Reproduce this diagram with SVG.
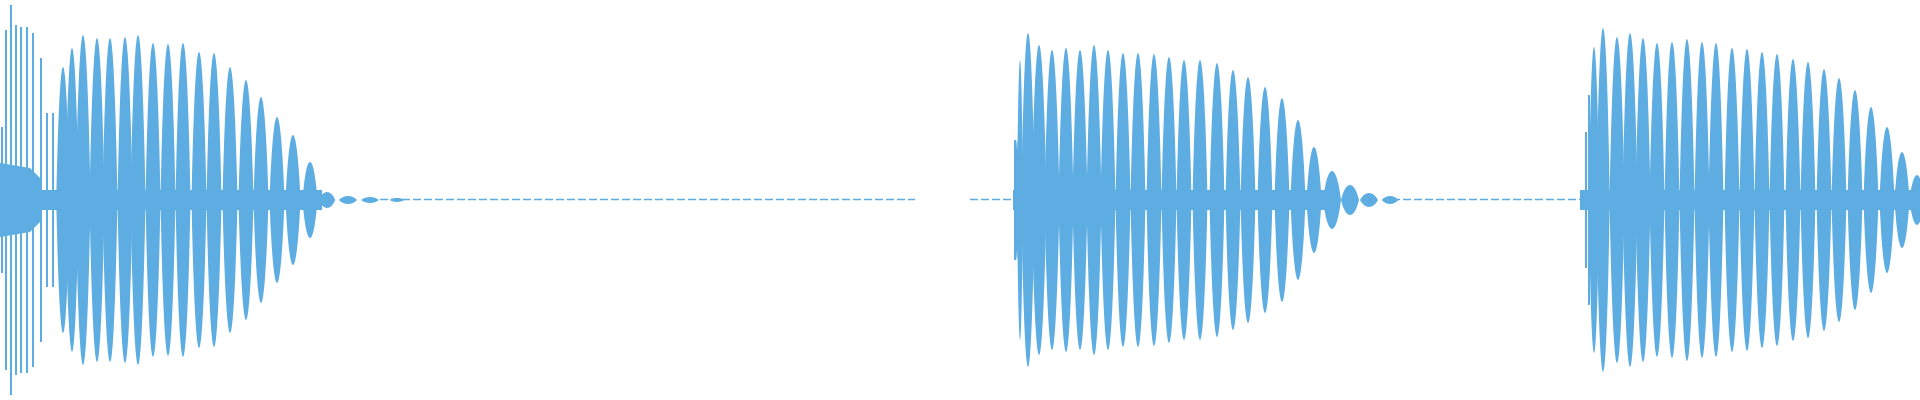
<svg xmlns="http://www.w3.org/2000/svg" xmlns:xlink="http://www.w3.org/1999/xlink" width="1920" height="400" viewBox="0 0 1920 400">
<style>.w{fill:#5dade2}.t{stroke:#5dade2;stroke-width:2}.d{stroke:#5dade2;stroke-width:1.5;stroke-dasharray:8 3;fill:none}</style>
<defs><path id="L" d="M-7.5 0 C-3.5 -1.333 3.5 -1.333 7.5 0 C3.5 1.333 -3.5 1.333 -7.5 0Z"/></defs>
<rect width="1920" height="400" fill="#fff"/>
<g class="w">
<rect x="0" y="190" width="322" height="20"/>
<path d="M0 163 L30 168 L40 178 L40 222 L30 232 L0 237Z"/>
<rect x="1013" y="190" width="318" height="20"/>
<rect x="1580" y="190" width="340" height="20"/>
</g>
<g class="t">
<line x1="2" y1="127" x2="2" y2="273"/><line x1="6" y1="30" x2="6" y2="370"/><line x1="11" y1="5" x2="11" y2="395"/><line x1="16" y1="25" x2="16" y2="375"/><line x1="21" y1="27" x2="21" y2="373"/><line x1="27" y1="27" x2="27" y2="373"/><line x1="33" y1="33" x2="33" y2="367"/><line x1="41" y1="58" x2="41" y2="342"/><line x1="47" y1="113" x2="47" y2="287"/><line x1="53" y1="113" x2="53" y2="287"/>
<line x1="1015" y1="140" x2="1015" y2="260"/><line x1="1586" y1="132" x2="1586" y2="268"/><line x1="1589" y1="95" x2="1589" y2="305"/>
</g>
<g class="d"><line x1="380" y1="199.5" x2="915" y2="199.5"/><line x1="970" y1="199.5" x2="1012" y2="199.5"/><line x1="1392" y1="199.5" x2="1580" y2="199.5"/></g>
<g class="w">
<use xlink:href="#L" transform="translate(63,200) scale(0.9,133)"/>
<use xlink:href="#L" transform="translate(72,200) scale(0.9,152)"/>
<use xlink:href="#L" transform="translate(83,200) scale(1,165)"/>
<use xlink:href="#L" transform="translate(97,200) scale(1,162)"/>
<use xlink:href="#L" transform="translate(110,200) scale(1,162)"/>
<use xlink:href="#L" transform="translate(125,200) scale(1,163)"/>
<use xlink:href="#L" transform="translate(138,200) scale(1,165)"/>
<use xlink:href="#L" transform="translate(153,200) scale(1,157)"/>
<use xlink:href="#L" transform="translate(168,200) scale(1,156)"/>
<use xlink:href="#L" transform="translate(183,200) scale(1,157)"/>
<use xlink:href="#L" transform="translate(199,200) scale(1,148)"/>
<use xlink:href="#L" transform="translate(214,200) scale(1,147)"/>
<use xlink:href="#L" transform="translate(230,200) scale(1,133)"/>
<use xlink:href="#L" transform="translate(246,200) scale(1,120)"/>
<use xlink:href="#L" transform="translate(261,200) scale(1,103)"/>
<use xlink:href="#L" transform="translate(277,200) scale(1,83)"/>
<use xlink:href="#L" transform="translate(293,200) scale(1,65)"/>
<use xlink:href="#L" transform="translate(310,200) scale(1,38)"/>
<use xlink:href="#L" transform="translate(327,200) scale(1.1,8)"/>
<use xlink:href="#L" transform="translate(348,200) scale(1.2,4)"/>
<use xlink:href="#L" transform="translate(370,200) scale(1.2,3)"/>
<use xlink:href="#L" transform="translate(397,200) scale(1,2)"/>
<use xlink:href="#L" transform="translate(1017,200) scale(0.3,60)"/>
<use xlink:href="#L" transform="translate(1020,200) scale(0.4,140)"/>
<use xlink:href="#L" transform="translate(1028,200) scale(0.9,167)"/>
<use xlink:href="#L" transform="translate(1039,200) scale(1,155)"/>
<use xlink:href="#L" transform="translate(1052,200) scale(1,150)"/>
<use xlink:href="#L" transform="translate(1066,200) scale(1,152)"/>
<use xlink:href="#L" transform="translate(1080,200) scale(1,150)"/>
<use xlink:href="#L" transform="translate(1094,200) scale(1,155)"/>
<use xlink:href="#L" transform="translate(1108,200) scale(1,150)"/>
<use xlink:href="#L" transform="translate(1123,200) scale(1,147)"/>
<use xlink:href="#L" transform="translate(1138,200) scale(1,147)"/>
<use xlink:href="#L" transform="translate(1154,200) scale(1,146)"/>
<use xlink:href="#L" transform="translate(1169,200) scale(1,143)"/>
<use xlink:href="#L" transform="translate(1184,200) scale(1,140)"/>
<use xlink:href="#L" transform="translate(1200,200) scale(1,140)"/>
<use xlink:href="#L" transform="translate(1217,200) scale(1,137)"/>
<use xlink:href="#L" transform="translate(1233,200) scale(1,130)"/>
<use xlink:href="#L" transform="translate(1248,200) scale(1,123)"/>
<use xlink:href="#L" transform="translate(1265,200) scale(1,113)"/>
<use xlink:href="#L" transform="translate(1282,200) scale(1,102)"/>
<use xlink:href="#L" transform="translate(1298,200) scale(1,80)"/>
<use xlink:href="#L" transform="translate(1314,200) scale(1,53)"/>
<use xlink:href="#L" transform="translate(1332,200) scale(1.2,29)"/>
<use xlink:href="#L" transform="translate(1350,200) scale(1.2,15)"/>
<use xlink:href="#L" transform="translate(1369,200) scale(1.2,7)"/>
<use xlink:href="#L" transform="translate(1390,200) scale(1.1,4)"/>
<use xlink:href="#L" transform="translate(1594,200) scale(0.7,153)"/>
<use xlink:href="#L" transform="translate(1603,200) scale(0.9,172)"/>
<use xlink:href="#L" transform="translate(1617,200) scale(1,163)"/>
<use xlink:href="#L" transform="translate(1630,200) scale(1,167)"/>
<use xlink:href="#L" transform="translate(1643,200) scale(1,162)"/>
<use xlink:href="#L" transform="translate(1657,200) scale(1,157)"/>
<use xlink:href="#L" transform="translate(1672,200) scale(1,158)"/>
<use xlink:href="#L" transform="translate(1687,200) scale(1,161)"/>
<use xlink:href="#L" transform="translate(1702,200) scale(1,158)"/>
<use xlink:href="#L" transform="translate(1716,200) scale(1,157)"/>
<use xlink:href="#L" transform="translate(1732,200) scale(1,152)"/>
<use xlink:href="#L" transform="translate(1747,200) scale(1,151)"/>
<use xlink:href="#L" transform="translate(1762,200) scale(1,148)"/>
<use xlink:href="#L" transform="translate(1777,200) scale(1,146)"/>
<use xlink:href="#L" transform="translate(1793,200) scale(1,141)"/>
<use xlink:href="#L" transform="translate(1808,200) scale(1,138)"/>
<use xlink:href="#L" transform="translate(1824,200) scale(1,131)"/>
<use xlink:href="#L" transform="translate(1839,200) scale(1,122)"/>
<use xlink:href="#L" transform="translate(1855,200) scale(1,110)"/>
<use xlink:href="#L" transform="translate(1871,200) scale(1,93)"/>
<use xlink:href="#L" transform="translate(1887,200) scale(1,73)"/>
<use xlink:href="#L" transform="translate(1902,200) scale(1,48)"/>
<use xlink:href="#L" transform="translate(1917,200) scale(1,25)"/>
</g>
</svg>
